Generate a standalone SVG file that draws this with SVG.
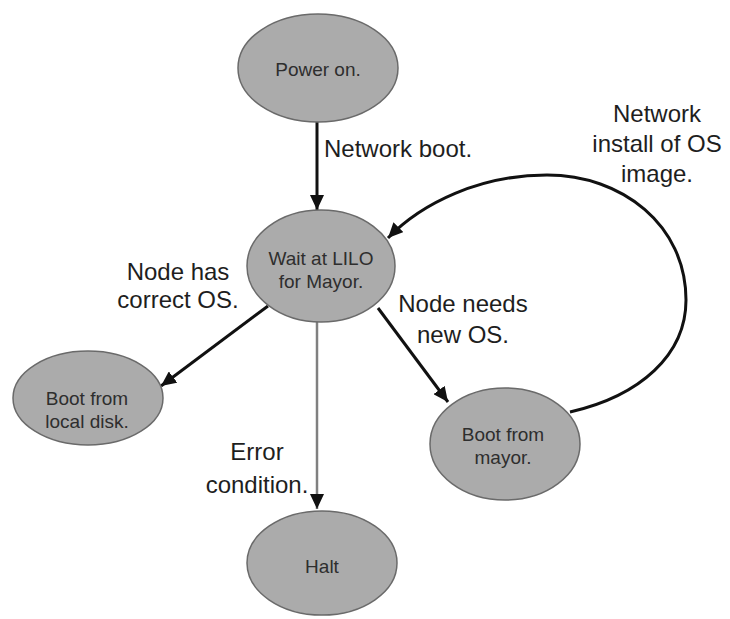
<svg xmlns="http://www.w3.org/2000/svg" width="730" height="619" viewBox="0 0 730 619">
  <style>
    .state ellipse { fill: #ababab; stroke: #6a6a6a; stroke-width: 1.5; }
    .state text { font-family: "Liberation Sans", Arial, sans-serif; font-size: 19px; fill: #2e2e2e; text-anchor: middle; }
    .edge { fill: none; stroke: #111; stroke-width: 3; }
    .edge.thin { stroke: #808080; stroke-width: 2.5; }
    .label { font-family: "Liberation Sans", Arial, sans-serif; font-size: 24px; fill: #1e1e1e; }
    .mid { text-anchor: middle; }
  </style>
  <defs>
    <marker id="head" markerUnits="userSpaceOnUse" markerWidth="16" markerHeight="14" refX="15" refY="7" orient="auto">
      <path d="M0,0 L15,7 L0,14 z" fill="#111"/>
    </marker>
  </defs>

  <rect width="730" height="619" fill="#ffffff"/>

  <!-- transitions -->
  <g id="connectors">
    <line class="edge" x1="317" y1="122" x2="317" y2="210" marker-end="url(#head)"/>
    <line class="edge" x1="268" y1="306" x2="161" y2="386" marker-end="url(#head)"/>
    <line class="edge" x1="378" y1="308" x2="448" y2="402" marker-end="url(#head)"/>
    <line class="edge thin" x1="317" y1="322" x2="317" y2="509" marker-end="url(#head)"/>
    <path class="edge" d="M570,412 C640,396 686,355 686,300 C686,225 622,175 547,175 C480,175 422,203 388,238" marker-end="url(#head)"/>
  </g>

  <!-- states -->
  <g id="power-on" class="state">
    <ellipse cx="318" cy="68" rx="80" ry="54"/>
    <text x="318" y="76">Power on.</text>
  </g>
  <g id="wait-lilo" class="state">
    <ellipse cx="321" cy="266" rx="74" ry="56"/>
    <text x="321" y="265">Wait at LILO</text>
    <text x="321" y="288">for Mayor.</text>
  </g>
  <g id="boot-local" class="state">
    <ellipse cx="88" cy="398" rx="75" ry="47"/>
    <text x="87" y="405">Boot from</text>
    <text x="87" y="428">local disk.</text>
  </g>
  <g id="boot-mayor" class="state">
    <ellipse cx="505" cy="444" rx="75" ry="56"/>
    <text x="503" y="441">Boot from</text>
    <text x="503" y="464">mayor.</text>
  </g>
  <g id="halt" class="state">
    <ellipse cx="322" cy="563" rx="75" ry="52"/>
    <text x="322" y="573">Halt</text>
  </g>

  <!-- transition labels -->
  <g id="labels">
    <text class="label" x="324" y="157">Network boot.</text>
    <text class="label mid" x="657" y="122">Network</text>
    <text class="label mid" x="657" y="152">install of OS</text>
    <text class="label mid" x="657" y="182">image.</text>
    <text class="label mid" x="178" y="280">Node has</text>
    <text class="label mid" x="178" y="308">correct OS.</text>
    <text class="label mid" x="463" y="312">Node needs</text>
    <text class="label mid" x="463" y="343">new OS.</text>
    <text class="label mid" x="257" y="460">Error</text>
    <text class="label mid" x="257" y="493">condition.</text>
  </g>
</svg>
